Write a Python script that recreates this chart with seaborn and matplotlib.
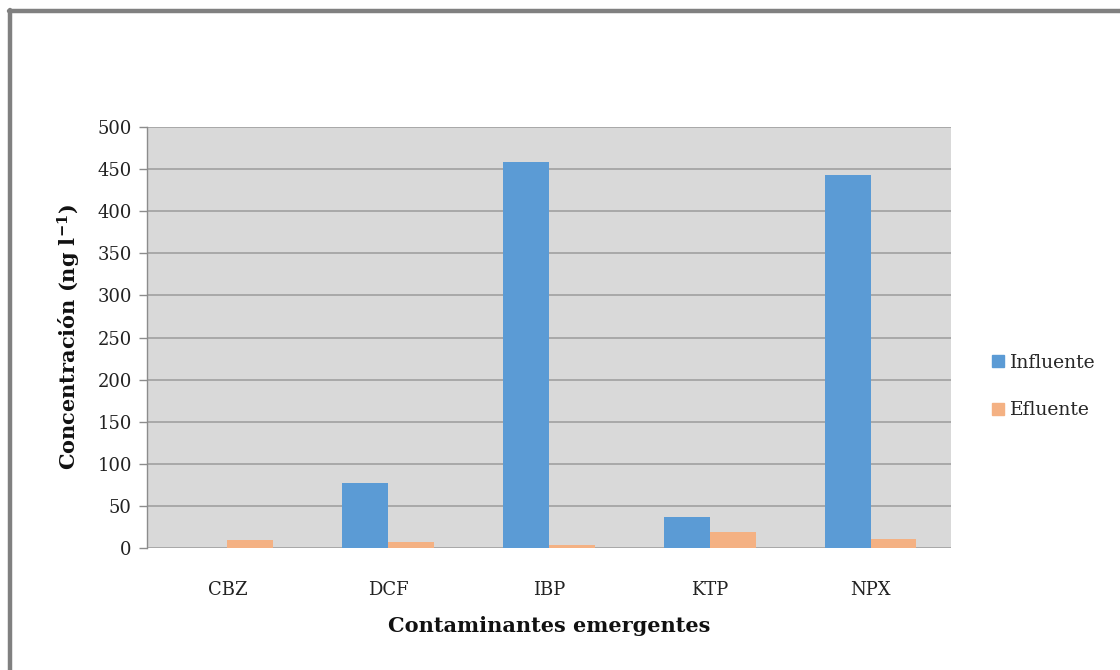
import matplotlib
matplotlib.use("Agg")
import matplotlib.pyplot as plt
import seaborn as sns
import pandas as pd
from matplotlib.lines import Line2D

categories = ["CBZ", "DCF", "IBP", "KTP", "NPX"]
influente = [0, 77, 458, 37, 443]
efluente = [9, 7, 3, 19, 11]
series_names = ["Influente", "Efluente"]
y_ticks = [0, 50, 100, 150, 200, 250, 300, 350, 400, 450, 500]

df = pd.DataFrame({
    "cat": categories * 2,
    "val": influente + efluente,
    "serie": [series_names[0]] * len(categories) + [series_names[1]] * len(categories),
})

sns.set_theme(style="white")
plt.rcParams["font.family"] = ["DejaVu Serif", "Liberation Serif"]
plt.rcParams["mathtext.fontset"] = "dejavuserif"

fig = plt.figure(figsize=(11.2, 6.7), dpi=100)
ax = fig.add_axes([0.1313, 0.1821, 0.7178, 0.6283])
ax.set_facecolor("#d9d9d9")

sns.barplot(data=df, x="cat", y="val", hue="serie", order=categories,
            hue_order=series_names, palette=["#5b9bd5", "#f4b183"],
            width=0.57, ax=ax, saturation=1, legend=False, linewidth=0)

ax.set_ylim(0, 500)
ax.set_xlim(-0.5, 4.5)
ax.set_yticks(y_ticks)
ax.set_yticklabels([str(t) for t in y_ticks], fontsize=13, color="#222222")
ax.tick_params(axis="x", labelsize=13, colors="#222222", length=0, pad=24)
ax.tick_params(axis="y", direction="out", length=6, width=1, color="#8c8c8c", left=True, pad=5)
ax.yaxis.grid(True, color="#a0a0a0", linewidth=1.2)
ax.set_axisbelow(True)
for s in ["top", "right", "bottom"]:
    ax.spines[s].set_visible(False)
ax.spines["left"].set_color("#8c8c8c")
ax.spines["left"].set_linewidth(1)

ax.set_xlabel("Contaminantes emergentes", fontsize=15, fontweight="bold", color="#111111", labelpad=12)
ax.set_ylabel(r"Concentración (ng l$^{\mathregular{-1}}$)", fontsize=15, fontweight="bold",
              color="#111111", labelpad=10)

handles = [Line2D([0], [0], marker="s", linestyle="", markersize=9,
                  markerfacecolor=c, markeredgecolor=c)
           for c in ["#5b9bd5", "#f4b183"]]
fig.legend(handles, series_names, loc="center left", bbox_to_anchor=(0.868, 0.423),
           frameon=False, fontsize=13.5, handletextpad=0.1, labelspacing=1.55,
           handlelength=1.0)

# outer frame (top and left edges)
fig.add_artist(Line2D([0.008, 1.0], [0.983, 0.983], transform=fig.transFigure,
                      color="#808080", linewidth=3.2))
fig.add_artist(Line2D([0.0085, 0.0085], [0.0, 0.985], transform=fig.transFigure,
                      color="#808080", linewidth=3.2))

fig.savefig("out.png", dpi=100, facecolor="white")
